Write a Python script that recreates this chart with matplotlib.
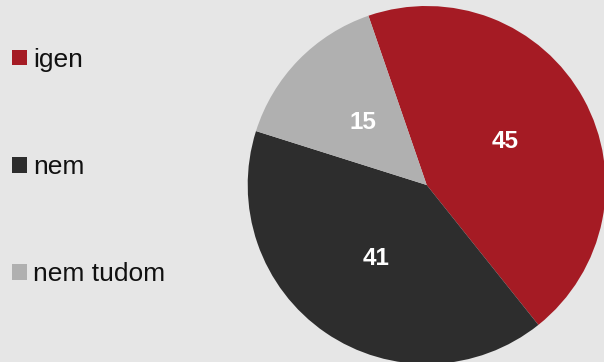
import matplotlib
matplotlib.use("Agg")
import matplotlib.pyplot as plt

labels = ["igen", "nem", "nem tudom"]
values = [45, 41, 15]
colors = ["#a51b24", "#2d2d2d", "#b0b0b0"]
bg = "#e6e6e6"

plt.rcParams['font.family'] = ['Liberation Sans', 'DejaVu Sans']

W, H = 604, 362
fig = plt.figure(figsize=(W / 100, H / 100), dpi=100, facecolor=bg)

cx, cy, r = 426.7, 185, 179
ax = fig.add_axes([(cx - r) / W, (H - cy - r) / H, 2 * r / W, 2 * r / H])
ax.set_facecolor(bg)
total = sum(values)
wedges, texts, autotexts = ax.pie(
    values, colors=colors, startangle=109, counterclock=False,
    autopct=lambda p: f"{round(p * total / 100):d}", pctdistance=0.5,
    textprops=dict(color="white", fontsize=17.5, fontweight="bold"),
    wedgeprops=dict(linewidth=0), radius=1)
for w in wedges:
    w.set_clip_on(False)
ax.set_xlim(-1, 1)
ax.set_ylim(-1, 1)
ax.set_aspect('auto')
ax.axis('off')

leg = fig.legend(wedges, labels, loc='center left',
                 bbox_to_anchor=(12 / W, (H - 167) / H),
                 frameon=False, fontsize=19, labelspacing=3.15,
                 handlelength=0.55, handleheight=0.55, handletextpad=0.25,
                 borderpad=0, borderaxespad=0)
for t in leg.get_texts():
    t.set_color("#111111")

fig.savefig("out.png", dpi=100, facecolor=bg)
